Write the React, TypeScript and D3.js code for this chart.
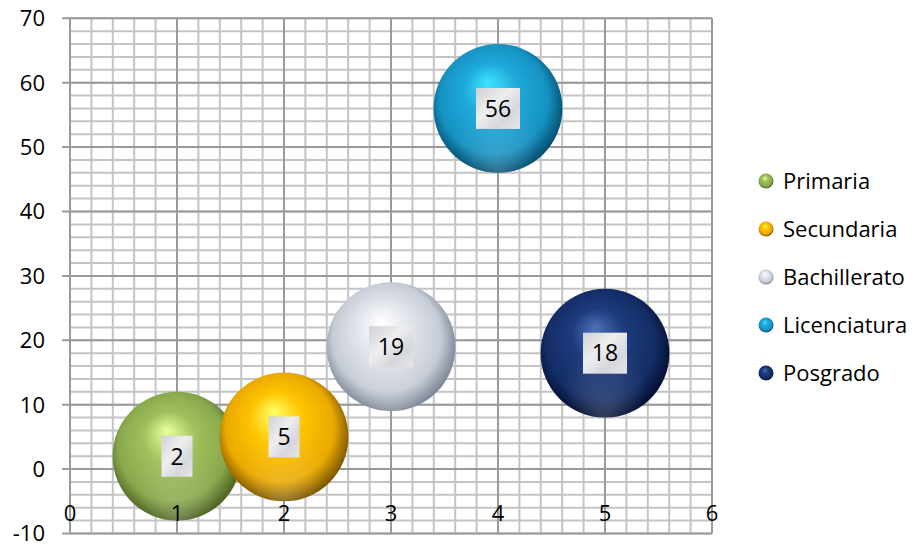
import React from "react";
import * as d3 from "d3";

const categories = ["Primaria", "Secundaria", "Bachillerato", "Licenciatura", "Posgrado"];
const xValues = [1, 2, 3, 4, 5];
const yValues = [2, 5, 19, 56, 18];
const bubbleSizes = [1, 1, 1, 1, 1];
const xTickLabels = ["0", "1", "2", "3", "4", "5", "6"];
const yTickLabels = ["-10", "0", "10", "20", "30", "40", "50", "60", "70"];

const palettes = [
  { hi: "#e6ff9a", base: "#a0c05e", mid: "#89a84c", edge: "#4d6224" },
  { hi: "#ffff66", base: "#ffc400", mid: "#eaa900", edge: "#7a5600" },
  { hi: "#ffffff", base: "#e2e5ec", mid: "#c6ccd6", edge: "#7b8596" },
  { hi: "#3fe4ff", base: "#1eaadb", mid: "#1692c2", edge: "#044e6e" },
  { hi: "#4d6fb8", base: "#1d3b7d", mid: "#142d66", edge: "#030f33" },
];

const W = 915;
const H = 546;
const FONT = "'Open Sans', sans-serif";

export default function App() {
  const left = 70, right = 712, top = 18.3, bottom = 533.5;
  const x = d3.scaleLinear().domain([0, 6]).range([left, right]);
  const y = d3.scaleLinear().domain([-10, 70]).range([bottom, top]);
  const r = d3
    .scaleSqrt()
    .domain([0, d3.max(bubbleSizes) as number])
    .range([0, 0.125 * Math.min(right - left, bottom - top)]);

  const minorX = d3.range(0, 30 + 1).map((i) => i * 0.2);
  const minorY = d3.range(0, 40 + 1).map((i) => -10 + i * 2);
  const majorX = xTickLabels.map(Number);
  const majorY = yTickLabels.map(Number);

  return (
    <svg
      width={W}
      height={H}
      style={{ position: "absolute", left: 0, top: 0, background: "#fff" }}
      fontFamily={FONT}
    >
      <defs>
        {palettes.map((p, i) => (
          <radialGradient key={i} id={`ball${i}`} cx="48%" cy="46%" r="54%" fx="42%" fy="30%">
            <stop offset="0%" stopColor={p.hi} />
            <stop offset="38%" stopColor={p.base} />
            <stop offset="78%" stopColor={p.mid} />
            <stop offset="100%" stopColor={p.edge} />
          </radialGradient>
        ))}
        <radialGradient id="shine" cx="50%" cy="60%" r="55%" fx="50%" fy="100%">
          <stop offset="0%" stopColor="#fff" stopOpacity={0.18} />
          <stop offset="60%" stopColor="#fff" stopOpacity={0} />
          <stop offset="100%" stopColor="#fff" stopOpacity={0} />
        </radialGradient>
        <linearGradient id="labelBg" x1="0" y1="0" x2="1" y2="1">
          <stop offset="0%" stopColor="#cfd0d4" />
          <stop offset="40%" stopColor="#eeeef0" />
          <stop offset="70%" stopColor="#d6d7db" />
          <stop offset="100%" stopColor="#e6e6e9" />
        </linearGradient>
      </defs>

      {/* minor grid */}
      <g stroke="#c4c4c4" strokeWidth={2}>
        {minorX.map((v, i) => (
          <line key={`mx${i}`} x1={x(v)} x2={x(v)} y1={top} y2={bottom} />
        ))}
        {minorY.map((v, i) => (
          <line key={`my${i}`} x1={left} x2={right} y1={y(v)} y2={y(v)} />
        ))}
      </g>
      {/* major grid */}
      <g stroke="#9a9a9a" strokeWidth={2}>
        {majorX.map((v, i) => (
          <line key={`Mx${i}`} x1={x(v)} x2={x(v)} y1={top} y2={bottom} />
        ))}
        {majorY.map((v, i) => (
          <line key={`My${i}`} x1={left - 8} x2={right} y1={y(v)} y2={y(v)} />
        ))}
      </g>

      {/* y tick labels */}
      <g fontSize={22} fill="#000" textAnchor="end">
        {yTickLabels.map((t, i) => (
          <text key={i} x={45} y={y(majorY[i])} dy="0.36em">
            {t}
          </text>
        ))}
      </g>

      {/* bubbles */}
      {categories.map((c, i) => {
        const cx = x(xValues[i]);
        const cy = y(yValues[i]);
        const rr = r(bubbleSizes[i]);
        return (
          <g key={c}>
            <circle cx={cx} cy={cy} r={rr} fill={`url(#ball${i})`} />
            <circle cx={cx} cy={cy} r={rr} fill="url(#shine)" />
          </g>
        );
      })}

      {/* x tick labels */}
      <g fontSize={22} fill="#000" textAnchor="middle">
        {xTickLabels.map((t, i) => (
          <text key={i} x={x(majorX[i])} y={513} dy="0.36em">
            {t}
          </text>
        ))}
      </g>

      {/* data labels */}
      {categories.map((c, i) => {
        const cx = x(xValues[i]);
        const cy = y(yValues[i]);
        const txt = String(yValues[i]);
        const bw = txt.length * 13 + 18;
        const bh = 41;
        return (
          <g key={`lab${c}`}>
            <rect x={cx - bw / 2} y={cy - bh / 2} width={bw} height={bh} fill="url(#labelBg)" />
            <text x={cx} y={cy} dy="0.36em" textAnchor="middle" fontSize={23} fill="#000">
              {txt}
            </text>
          </g>
        );
      })}

      {/* legend */}
      {categories.map((c, i) => {
        const ly = 181 + i * 48;
        return (
          <g key={`leg${c}`}>
            <circle cx={766} cy={ly} r={7.5} fill={`url(#ball${i})`} />
            <text x={783} y={ly} dy="0.36em" fontSize={22} fill="#000">
              {c}
            </text>
          </g>
        );
      })}
    </svg>
  );
}
